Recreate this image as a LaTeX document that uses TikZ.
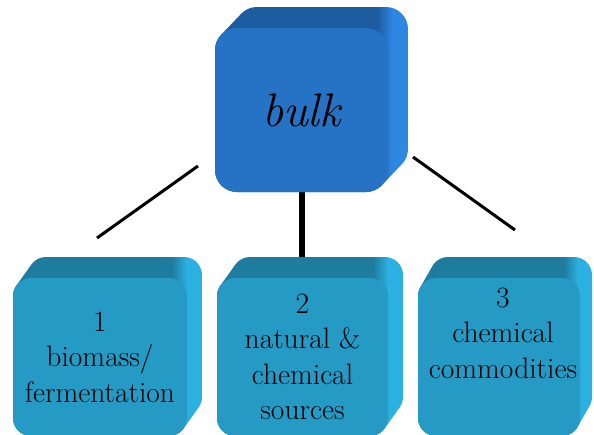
\documentclass[tikz,border=0pt]{standalone}

\definecolor{topfront}{RGB}{38,114,196}
\definecolor{toptop}{RGB}{30,92,160}
\definecolor{topside}{RGB}{46,136,226}
\definecolor{lowfront}{RGB}{36,154,196}
\definecolor{lowtop}{RGB}{30,124,158}
\definecolor{lowside}{RGB}{44,176,226}

% depth shadings: dark top face, lighter right face
\pgfdeclarehorizontalshading{topdepth}{100bp}{color(0bp)=(toptop); color(67bp)=(toptop); color(71bp)=(topside); color(100bp)=(topside)}
\pgfdeclarehorizontalshading{lowdepth}{100bp}{color(0bp)=(lowtop); color(67bp)=(lowtop); color(71bp)=(lowside); color(100bp)=(lowside)}

% extruded back part of a box: x0,y0,x1,y1,dx,dy,radius,shading
\newcommand\depthbox[8]{%
  \shade[shading=#8, rounded corners=#7]
    foreach \k in {0,...,20} {
      ({#1+\k/20*#5},{#2+\k/20*#6}) rectangle ({#3+\k/20*#5},{#4+\k/20*#6})
    };%
}

\tikzset{
  face/.style={rectangle, inner sep=0pt, align=center, text=black},
  topface/.style={face, fill=topfront, rounded corners=22pt,
    minimum width=173pt, minimum height=164pt,
    font=\rmfamily\fontsize{47}{50}\selectfont\itshape},
  lowface/.style={face, fill=lowfront, rounded corners=18pt,
    minimum height=158pt, font=\rmfamily\fontsize{29.5}{35.5}\selectfont},
  lowtext/.style={inner sep=0pt, align=center, text=black,
    font=\rmfamily\fontsize{29.5}{35.5}\selectfont},
  link/.style={line width=3pt, black},
  trunk/.style={line width=6pt, black}
}

\begin{document}
\begin{tikzpicture}[x=1pt, y=-1pt]
\useasboundingbox (0,0) rectangle (594,434);

% connectors
\coordinate (l1) at (198,166);
\coordinate (l2) at (97,238);
\coordinate (r1) at (413,157);
\coordinate (r2) at (515,230);
\coordinate (m2) at (302,262);
\draw[link] (l1) -- (l2);
\draw[link] (r1) -- (r2);
\draw[trunk] (302,185) -- (m2);

% top box
\depthbox{215}{28}{388}{192}{20}{-21}{22pt}{topdepth}
\node[topface] (top) at (301.5,110) {bulk};

% lower boxes
\depthbox{13}{278}{187}{436}{15}{-21}{18pt}{lowdepth}
\node[lowface, minimum width=174pt] (b1) at (100,357) {1\\biomass/\\fermentation};

\depthbox{217}{278}{388}{436}{15}{-21}{18pt}{lowdepth}
\node[lowface, minimum width=171pt] (b2) at (302.5,357) {2\\natural \&\\chemical\\sources};

\depthbox{418}{278}{580}{436}{12}{-21}{18pt}{lowdepth}
\node[lowface, minimum width=162pt] (b3) at (499,357) {};
\node[lowtext] (b3t) at ([xshift=4pt, yshift=24pt]b3.center) {3\\chemical\\commodities};
\end{tikzpicture}
\end{document}
